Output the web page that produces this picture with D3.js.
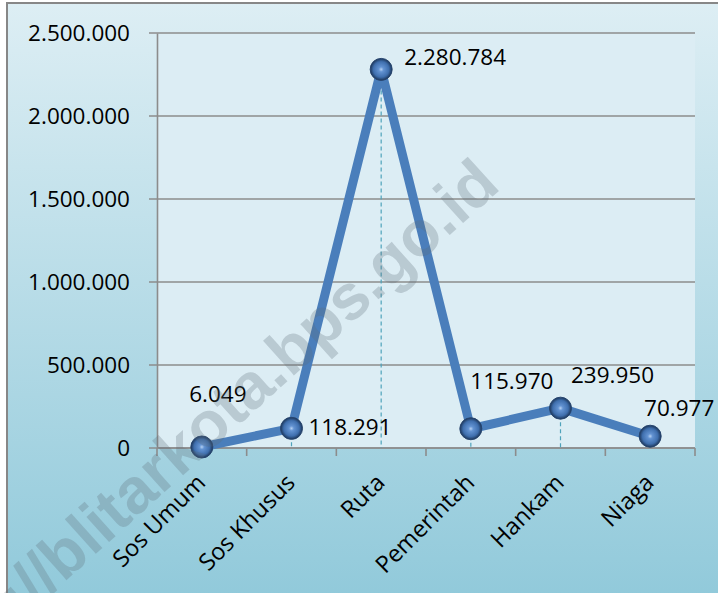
<!DOCTYPE html>
<html>
<head>
<meta charset="utf-8">
<script src="https://cdn.jsdelivr.net/npm/d3@7"></script>
<style>
  html, body { margin: 0; padding: 0; background: #fff; }
  svg { display: block; }
</style>
</head>
<body>
<svg id="chart"></svg>
<script>
// data
const categories = ["Sos Umum", "Sos Khusus", "Ruta", "Pemerintah", "Hankam", "Niaga"];
const values = [6049, 118291, 2280784, 115970, 239950, 70977];
const yTickValues = [0, 500000, 1000000, 1500000, 2000000, 2500000];
const watermark = "http://blitarkota.bps.go.id";

// label placement relative to each point (Excel nudged them around)
const labelOffsets = [
  { dx: 16, dy: -45, anchor: "middle" },
  { dx: 17, dy: 7, anchor: "start" },
  { dx: 23, dy: -4, anchor: "start" },
  { dx: 41, dy: -40, anchor: "middle" },
  { dx: 52, dy: -25, anchor: "middle" },
  { dx: 29, dy: -20, anchor: "middle" },
];

const dims = {
  width: 718,
  height: 593,
  plot: { left: 157, right: 695, top: 33, bottom: 448 },
};
const font = "'Open Sans', 'Noto Sans', sans-serif";
const fmt = (v) => d3.format(",d")(v).replace(/,/g, ".");

const svg = d3
  .select("#chart")
  .attr("width", dims.width)
  .attr("height", dims.height)
  .attr("viewBox", [0, 0, dims.width, dims.height]);

const defs = svg.append("defs");

const bgGrad = defs
  .append("linearGradient")
  .attr("id", "bg")
  .attr("x1", 0).attr("y1", 0).attr("x2", 0).attr("y2", 1);
bgGrad.append("stop").attr("offset", "0%").attr("stop-color", "#ddeef4");
bgGrad.append("stop").attr("offset", "100%").attr("stop-color", "#90c9da");

const ball = defs
  .append("radialGradient")
  .attr("id", "ball")
  .attr("cx", "50%").attr("cy", "50%").attr("r", "50%");
ball.append("stop").attr("offset", "0%").attr("stop-color", "#b4d0f2");
ball.append("stop").attr("offset", "22%").attr("stop-color", "#6393d2");
ball.append("stop").attr("offset", "70%").attr("stop-color", "#3f6fae");
ball.append("stop").attr("offset", "100%").attr("stop-color", "#1b3558");

// chart area
svg
  .append("rect")
  .attr("x", 7)
  .attr("y", 3)
  .attr("width", dims.width + 10)
  .attr("height", dims.height + 10)
  .attr("fill", "url(#bg)")
  .attr("stroke", "#878787")
  .attr("stroke-width", 2);

// plot area
svg
  .append("rect")
  .attr("x", dims.plot.left)
  .attr("y", dims.plot.top)
  .attr("width", dims.plot.right - dims.plot.left)
  .attr("height", dims.plot.bottom - dims.plot.top)
  .attr("fill", "#dcedf4");

const xScale = d3
  .scaleBand()
  .domain(categories)
  .range([dims.plot.left, dims.plot.right]);

const yScale = d3
  .scaleLinear()
  .domain([0, 2500000])
  .range([dims.plot.bottom, dims.plot.top]);

const cx = (c) => xScale(c) + xScale.bandwidth() / 2;

// gridlines
svg
  .append("g")
  .selectAll("line")
  .data(yTickValues)
  .join("line")
  .attr("x1", dims.plot.left - 8)
  .attr("x2", dims.plot.right)
  .attr("y1", (d) => yScale(d))
  .attr("y2", (d) => yScale(d))
  .attr("stroke", "#8c8c8c")
  .attr("stroke-width", 1.6);

// y axis
svg
  .append("g")
  .attr("transform", `translate(${dims.plot.left},0)`)
  .call(d3.axisLeft(yScale).tickValues(yTickValues).tickSize(0).tickPadding(27).tickFormat(fmt))
  .call((g) => {
    g.select("path.domain").attr("stroke", "#8c8c8c").attr("stroke-width", 1.6);
    g.selectAll(".tick text")
      .attr("font-family", font)
      .attr("font-size", 22.5)
      .attr("fill", "#000");
  });

// x axis
const xEdges = categories.map((c) => xScale(c)).concat([dims.plot.right]);
svg
  .append("g")
  .selectAll("line")
  .data(xEdges)
  .join("line")
  .attr("x1", (d) => d)
  .attr("x2", (d) => d)
  .attr("y1", dims.plot.bottom)
  .attr("y2", dims.plot.bottom + 8)
  .attr("stroke", "#8c8c8c")
  .attr("stroke-width", 1.6);

svg
  .append("line")
  .attr("x1", dims.plot.left)
  .attr("x2", dims.plot.right)
  .attr("y1", dims.plot.bottom)
  .attr("y2", dims.plot.bottom)
  .attr("stroke", "#8c8c8c")
  .attr("stroke-width", 1.6);

svg
  .append("g")
  .selectAll("text")
  .data(categories)
  .join("text")
  .attr("transform", (d) => `translate(${cx(d) + 5},${dims.plot.bottom + 36}) rotate(-45)`)
  .attr("text-anchor", "end")
  .attr("font-family", font)
  .attr("font-size", 23.5)
  .attr("fill", "#000")
  .text((d) => d);

// drop lines
svg
  .append("g")
  .selectAll("line")
  .data(values)
  .join("line")
  .attr("x1", (d, i) => cx(categories[i]))
  .attr("x2", (d, i) => cx(categories[i]))
  .attr("y1", (d) => yScale(d))
  .attr("y2", yScale(0))
  .attr("stroke", "#4fa3bb")
  .attr("stroke-width", 1.2)
  .attr("stroke-dasharray", "4,3");

// the line
const line = d3
  .line()
  .x((d, i) => cx(categories[i]))
  .y((d) => yScale(d));

svg
  .append("path")
  .datum(values)
  .attr("d", line)
  .attr("fill", "none")
  .attr("stroke", "#4a7ebb")
  .attr("stroke-width", 9)
  .attr("stroke-linejoin", "round");

// markers
svg
  .append("g")
  .selectAll("circle")
  .data(values)
  .join("circle")
  .attr("cx", (d, i) => cx(categories[i]))
  .attr("cy", (d) => yScale(d))
  .attr("r", 11)
  .attr("fill", "url(#ball)")
  .attr("stroke", "#27456f")
  .attr("stroke-width", 1);

// data labels
svg
  .append("g")
  .selectAll("text")
  .data(values)
  .join("text")
  .attr("x", (d, i) => cx(categories[i]) + labelOffsets[i].dx)
  .attr("y", (d, i) => yScale(d) + labelOffsets[i].dy)
  .attr("text-anchor", (d, i) => labelOffsets[i].anchor)
  .attr("font-family", font)
  .attr("font-size", 22.5)
  .attr("fill", "#000")
  .text((d) => fmt(d));

// watermark
svg
  .append("text")
  .attr("transform", "translate(502,188) rotate(-42)")
  .attr("text-anchor", "end")
  .attr("font-family", "'Liberation Sans', Arial, sans-serif")
  .attr("font-weight", "bold")
  .attr("font-size", 64)
  .attr("fill", "#5c6d76")
  .attr("fill-opacity", 0.27)
  .text(watermark);
</script>
</body>
</html>
